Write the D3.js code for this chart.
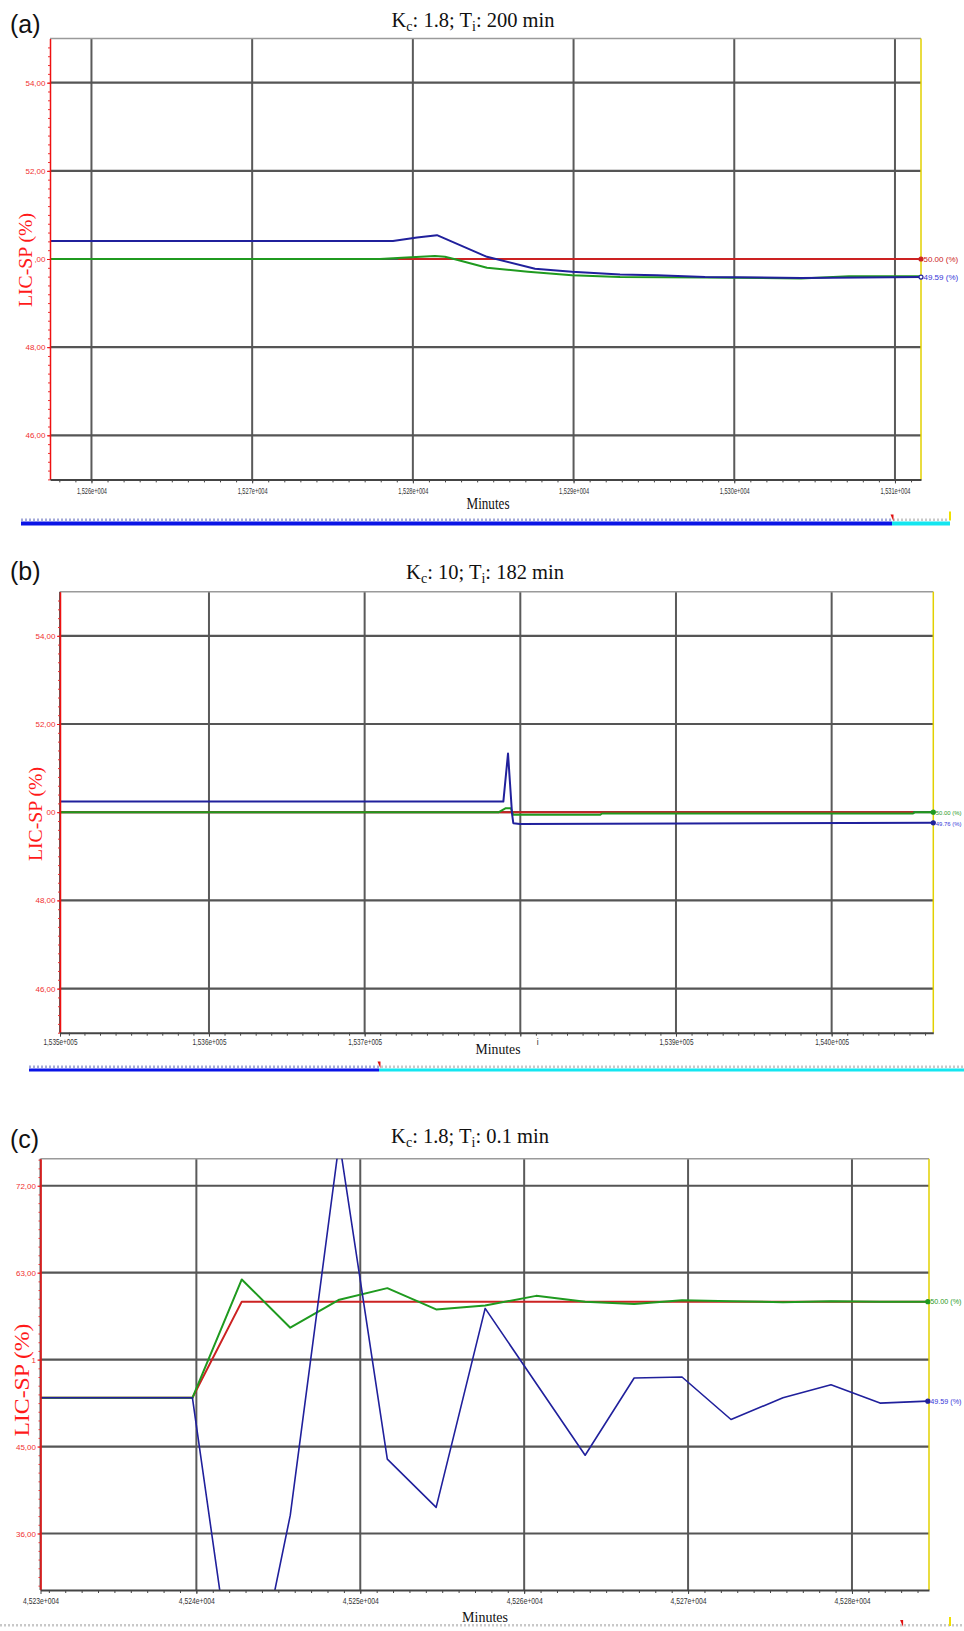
<!DOCTYPE html>
<html>
<head>
<meta charset="utf-8">
<script src="https://cdn.jsdelivr.net/npm/d3@7"></script>
<style>
  body { margin: 0; background: #fff; }
  svg { display: block; }
</style>
</head>
<body>
<svg id="chart"></svg>
<script>
'use strict'

// ---------- panel (a): Kc 1.8, Ti 200 min ----------
const aXDomain = [15257.42, 15311.62]
const aYDomain = [45, 55]
const aXTicks = [15260, 15270, 15280, 15290, 15300, 15310]
const aXTickLabels = ['1,526e+004', '1,527e+004', '1,528e+004', '1,529e+004', '1,530e+004', '1,531e+004']
const aYTicks = [46, 48, 50, 52, 54]
const aYTickLabels = ['46,00', '48,00', ',00', '52,00', '54,00']
const aRedT = [15279.09, 15311.62]
const aRedV = [50.0, 50.0]
const aGreenT = [15257.42, 15277.95, 15279.32, 15281.37, 15281.99, 15282.56, 15284.61, 15287.16, 15289.90, 15292.89, 15298.18, 15304.15, 15307.14, 15311.62]
const aGreenV = [50.0, 50.0, 50.03, 50.07, 50.05, 50.0, 49.80, 49.71, 49.63, 49.59, 49.58, 49.56, 49.61, 49.61]
const aBlueT = [15257.42, 15278.76, 15280.26, 15281.50, 15284.61, 15287.60, 15289.90, 15292.89, 15295.19, 15298.18, 15304.15, 15311.62]
const aBlueV = [50.41, 50.41, 50.49, 50.54, 50.05, 49.78, 49.71, 49.65, 49.63, 49.59, 49.57, 49.59]
const aEndLabels = ['50.00 (%)', '49.59 (%)']

// ---------- panel (b): Kc 10, Ti 182 min ----------
const bXDomain = [153504.3, 154065.3]
const bYDomain = [45, 55]
const bXTicks = [153504.3, 153600, 153700, 153800, 153900, 154000]
const bXTickLabels = ['1,535e+005', '1,536e+005', '1,537e+005', 'i', '1,539e+005', '1,540e+005']
const bYTicks = [46, 48, 50, 52, 54]
const bYTickLabels = ['46,00', '48,00', '00', '52,00', '54,00']
const bRedT = [153504.3, 154052.3]
const bRedV = [50.0, 50.0]
const bGreenT = [153504.3, 153786.2, 153790.7, 153793.9, 153795.5, 153851.2, 153852.5, 154052.3, 154053.6, 154065.3]
const bGreenV = [50.0, 50.0, 50.09, 50.09, 49.94, 49.94, 49.97, 49.97, 50.0, 50.0]
const bBlueT = [153504.3, 153789.1, 153792.1, 153794.7, 153795.5, 153799.8, 154065.3]
const bBlueV = [50.24, 50.24, 51.33, 49.96, 49.75, 49.73, 49.76]
const bEndLabels = ['50.00 (%)', '49.76 (%)']

// ---------- panel (c): Kc 1.8, Ti 0.1 min ----------
const cXDomain = [45230.49, 45284.70]
const cYDomain = [30.15, 74.8]
const cXTicks = [45230.49, 45240, 45250, 45260, 45270, 45280]
const cXTickLabels = ['4,523e+004', '4,524e+004', '4,525e+004', '4,526e+004', '4,527e+004', '4,528e+004']
const cYTicks = [36, 45, 54, 63, 72]
const cYTickLabels = ['36,00', '45,00', '1', '63,00', '72,00']
const cRedT = [45230.49, 45239.76, 45242.77, 45284.63]
const cRedV = [50.05, 50.05, 60.0, 60.0]
const cGreenT = [45230.49, 45239.76, 45242.77, 45245.73, 45248.72, 45251.65, 45254.63, 45257.62, 45260.73, 45263.72, 45266.71, 45269.63, 45272.62, 45275.79, 45278.72, 45281.71, 45284.63]
const cGreenV = [50.05, 50.05, 62.3, 57.3, 60.2, 61.4, 59.2, 59.6, 60.6, 60.0, 59.75, 60.15, 60.05, 59.95, 60.05, 60.0, 60.0]
const cBlueT = [45230.49, 45239.76, 45242.80, 45245.73, 45248.72, 45251.65, 45254.63, 45257.62, 45263.72, 45266.71, 45269.63, 45272.62, 45275.79, 45278.72, 45281.71, 45284.63]
const cBlueV = [50.05, 50.05, 13.7, 37.9, 76.6, 43.7, 38.7, 59.3, 44.1, 52.1, 52.2, 47.8, 50.05, 51.4, 49.5, 49.7]
const cEndLabels = ['50.00 (%)', '49.59 (%)']

const panelLetters = ['(a)', '(b)', '(c)']
const titleKc = ['1.8', '10', '1.8']
const titleTi = ['200', '182', '0.1']

const RED = '#cc2222', GREEN = '#1f9a1f', BLUE = '#20209c'
const W = 964, H = 1631

// layout of each panel (pixels), the values come from the arrays above
const panels = [
  {
    letter: panelLetters[0], kc: titleKc[0], ti: titleTi[0],
    box: {left: 50, right: 921, top: 38.6, bottom: 479.4},
    xDomain: aXDomain, yDomain: aYDomain,
    xTicks: aXTicks, xTickLabels: aXTickLabels, xMinor: 1,
    yTicks: aYTicks, yTickLabels: aYTickLabels, yMinor: 0.2,
    series: [
      {t: aRedT, v: aRedV, color: RED, width: 2},
      {t: aGreenT, v: aGreenV, color: GREEN, width: 2},
      {t: aBlueT, v: aBlueV, color: BLUE, width: 2}
    ],
    ends: [{s: 0, text: aEndLabels[0], fill: true}, {s: 2, text: aEndLabels[1], fill: false}],
    letterPos: {x: 10, y: 33}, titlePos: {x: 473, y: 27},
    yLabel: {x: 25, y: 260, len: 94, size: 19},
    minutes: {x: 488, y: 509, len: 43, size: 16},
    xLab: {y: 494, len: 30, size: 9},
    scroll: {y: 521.5, h: 4, from: 21, split: 892, to: 950, yellow: 950}
  },
  {
    letter: panelLetters[1], kc: titleKc[1], ti: titleTi[1],
    box: {left: 60, right: 933.3, top: 591.7, bottom: 1032.7},
    xDomain: bXDomain, yDomain: bYDomain,
    xTicks: bXTicks, xTickLabels: bXTickLabels, xMinor: 10,
    yTicks: bYTicks, yTickLabels: bYTickLabels, yMinor: 0.2,
    series: [
      {t: bRedT, v: bRedV, color: RED, width: 2},
      {t: bGreenT, v: bGreenV, color: GREEN, width: 2},
      {t: bBlueT, v: bBlueV, color: BLUE, width: 2}
    ],
    ends: [{s: 1, text: bEndLabels[0], fill: true}, {s: 2, text: bEndLabels[1], fill: true}],
    letterPos: {x: 10, y: 580}, titlePos: {x: 485, y: 579},
    yLabel: {x: 35, y: 814, len: 94, size: 19},
    minutes: {x: 498, y: 1054, len: 45, size: 15},
    xLab: {y: 1045, len: 34, size: 8.5},
    scroll: {y: 1068.5, h: 3, from: 29, split: 379, to: 964, yellow: null}
  },
  {
    letter: panelLetters[2], kc: titleKc[2], ti: titleTi[2],
    box: {left: 40.5, right: 929, top: 1158.7, bottom: 1590},
    xDomain: cXDomain, yDomain: cYDomain,
    xTicks: cXTicks, xTickLabels: cXTickLabels, xMinor: 1,
    yTicks: cYTicks, yTickLabels: cYTickLabels, yMinor: 0.9,
    series: [
      {t: cRedT, v: cRedV, color: RED, width: 2},
      {t: cGreenT, v: cGreenV, color: GREEN, width: 2},
      {t: cBlueT, v: cBlueV, color: BLUE, width: 1.6}
    ],
    ends: [{s: 1, text: cEndLabels[0], fill: true}, {s: 2, text: cEndLabels[1], fill: true}],
    letterPos: {x: 10, y: 1148}, titlePos: {x: 470, y: 1143},
    yLabel: {x: 22, y: 1380, len: 113, size: 21},
    minutes: {x: 485, y: 1622, len: 46, size: 15},
    xLab: {y: 1604, len: 36, size: 9},
    scroll: {y: 1627, h: 0, from: 0, split: 0, to: 964, yellow: 950, marker: 901.6}
  }
]

const svg = d3.select('#chart').attr('width', W).attr('height', H)
svg.append('rect').attr('width', W).attr('height', H).attr('fill', '#fff')

panels.forEach((p, idx) => {
  const g = svg.append('g')
  const b = p.box
  const x = d3.scaleLinear().domain(p.xDomain).range([b.left, b.right])
  const y = d3.scaleLinear().domain(p.yDomain).range([b.bottom, b.top])

  // panel letter
  g.append('text')
    .attr('x', p.letterPos.x).attr('y', p.letterPos.y)
    .attr('font-family', 'Liberation Sans, Arial, sans-serif')
    .attr('font-size', 25).attr('fill', '#111')
    .text(p.letter)

  // title with subscripts
  const title = g.append('text')
    .attr('x', p.titlePos.x).attr('y', p.titlePos.y)
    .attr('text-anchor', 'middle')
    .attr('font-family', 'Liberation Serif, Times New Roman, serif')
    .attr('font-size', 20.5).attr('fill', '#111')
  title.append('tspan').text('K')
  title.append('tspan').attr('font-size', 14).attr('dy', 4).text('c')
  title.append('tspan').attr('dy', -4).text(': ' + p.kc + '; T')
  title.append('tspan').attr('font-size', 14).attr('dy', 4).text('i')
  title.append('tspan').attr('dy', -4).text(': ' + p.ti + ' min')

  // grid
  g.append('g').selectAll('line').data(p.xTicks).join('line')
    .attr('x1', d => x(d)).attr('x2', d => x(d))
    .attr('y1', b.top).attr('y2', b.bottom)
    .attr('stroke', '#5a5a5a').attr('stroke-width', 2)
  g.append('g').selectAll('line').data(p.yTicks).join('line')
    .attr('x1', b.left).attr('x2', b.right)
    .attr('y1', d => y(d)).attr('y2', d => y(d))
    .attr('stroke', '#555').attr('stroke-width', 2.2)

  // frame: grey top, yellow right
  g.append('line').attr('x1', b.left).attr('x2', b.right).attr('y1', b.top).attr('y2', b.top)
    .attr('stroke', '#9a9a9a').attr('stroke-width', 1.5)
  g.append('line').attr('x1', b.right).attr('x2', b.right).attr('y1', b.top).attr('y2', b.bottom)
    .attr('stroke', '#e2d000').attr('stroke-width', 1.5)

  // series, clipped to the plot
  const clipId = 'clip' + idx
  svg.append('clipPath').attr('id', clipId).append('rect')
    .attr('x', b.left).attr('y', b.top).attr('width', b.right - b.left).attr('height', b.bottom - b.top)
  const line = d3.line().x(d => x(d[0])).y(d => y(d[1]))
  const plot = g.append('g').attr('clip-path', 'url(#' + clipId + ')')
  p.series.forEach(s => {
    plot.append('path').datum(d3.zip(s.t, s.v))
      .attr('d', line).attr('fill', 'none')
      .attr('stroke', s.color).attr('stroke-width', s.width)
      .attr('stroke-linejoin', 'round')
  })

  // end markers + value labels (kept inside the page width)
  p.ends.forEach(e => {
    const s = p.series[e.s]
    const lx = x(s.t[s.t.length - 1]), ly = y(s.v[s.v.length - 1])
    g.append('circle').attr('cx', lx).attr('cy', ly).attr('r', 2)
      .attr('fill', e.fill ? s.color : '#fff').attr('stroke', s.color).attr('stroke-width', 1.2)
    const tx = lx + 2.5
    const fs = Math.min(8, (W - 2 - tx) / 4.4)
    g.append('text').attr('x', tx).attr('y', ly + 2.8)
      .attr('font-family', 'Liberation Sans, Arial, sans-serif')
      .attr('font-size', fs).attr('fill', s.color === BLUE ? '#3535d8' : s.color)
      .text(e.text)
  })

  // y axis (red) with minor ticks
  const yMinorTicks = d3.range(Math.ceil(p.yDomain[0] / p.yMinor) * p.yMinor, p.yDomain[1], p.yMinor)
  const yMinorAxis = g.append('g').attr('transform', 'translate(' + b.left + ',0)')
    .call(d3.axisLeft(y).tickValues(yMinorTicks).tickFormat('').tickSize(2).tickSizeOuter(0))
  yMinorAxis.select('.domain').remove()
  yMinorAxis.selectAll('line').attr('stroke', '#e33').attr('stroke-width', 1)
  const yAxis = g.append('g').attr('transform', 'translate(' + b.left + ',0)')
    .call(d3.axisLeft(y).tickValues(p.yTicks).tickFormat((d, i) => p.yTickLabels[i]).tickSize(3).tickSizeOuter(0).tickPadding(1.5))
  yAxis.select('.domain').attr('stroke', '#e11').attr('stroke-width', 1.5)
  yAxis.selectAll('.tick line').attr('stroke', '#e11')
  yAxis.selectAll('.tick text')
    .attr('font-family', 'Liberation Sans, Arial, sans-serif')
    .attr('font-size', 8).attr('fill', '#f03030')

  // y axis title
  g.append('text')
    .attr('transform', 'translate(' + p.yLabel.x + ',' + p.yLabel.y + ') rotate(-90)')
    .attr('text-anchor', 'middle').attr('dy', '0.35em')
    .attr('font-family', 'Liberation Serif, Times New Roman, serif')
    .attr('font-size', p.yLabel.size).attr('fill', '#ff1a1a')
    .attr('textLength', p.yLabel.len).attr('lengthAdjust', 'spacingAndGlyphs')
    .text('LIC-SP (%)')

  // x axis (dark) with minor ticks
  const xMinorTicks = d3.range(Math.ceil(p.xDomain[0] / p.xMinor) * p.xMinor, p.xDomain[1], p.xMinor)
  const xMinorAxis = g.append('g').attr('transform', 'translate(0,' + b.bottom + ')')
    .call(d3.axisBottom(x).tickValues(xMinorTicks).tickFormat('').tickSize(3).tickSizeOuter(0))
  xMinorAxis.select('.domain').remove()
  xMinorAxis.selectAll('line').attr('stroke', '#444').attr('stroke-width', 1)
  const xAxis = g.append('g').attr('transform', 'translate(0,' + b.bottom + ')')
    .call(d3.axisBottom(x).tickValues(p.xTicks).tickFormat((d, i) => p.xTickLabels[i]).tickSize(4).tickSizeOuter(0).tickPadding(3))
  xAxis.select('.domain').attr('stroke', '#444').attr('stroke-width', 2)
  xAxis.selectAll('.tick line').attr('stroke', '#444')
  xAxis.selectAll('.tick text')
    .attr('dy', null)
    .attr('font-family', 'Liberation Sans, Arial, sans-serif')
    .attr('font-size', p.xLab.size).attr('fill', '#333')
    .each(function(d, i) {
      const t = d3.select(this)
      t.attr('y', p.xLab.y - b.bottom)
      if (p.xTickLabels[i].length > 2) {
        t.attr('textLength', p.xLab.len).attr('lengthAdjust', 'spacingAndGlyphs')
      } else {
        t.attr('dx', 17)
      }
    })

  // "Minutes"
  g.append('text')
    .attr('x', p.minutes.x).attr('y', p.minutes.y)
    .attr('text-anchor', 'middle')
    .attr('font-family', 'Liberation Serif, Times New Roman, serif')
    .attr('font-size', p.minutes.size).attr('fill', '#111')
    .attr('textLength', p.minutes.len).attr('lengthAdjust', 'spacingAndGlyphs')
    .text('Minutes')

  // scroll bar under the chart
  const sc = p.scroll
  const sg = g.append('g')
  if (sc.h > 0) {
    sg.append('rect').attr('x', sc.from).attr('y', sc.y).attr('width', sc.split - sc.from).attr('height', sc.h).attr('fill', '#0a14e6')
    sg.append('rect').attr('x', sc.split).attr('y', sc.y).attr('width', sc.to - sc.split).attr('height', sc.h).attr('fill', '#14e6f0')
  }
  sg.selectAll('.stick').data(d3.range(sc.from + 1, sc.to, 4)).join('line')
    .attr('x1', d => d).attr('x2', d => d)
    .attr('y1', sc.y - 3).attr('y2', sc.y - 0.5)
    .attr('stroke', d => (d < sc.split ? '#1a2aa0' : '#777')).attr('stroke-width', 0.8)
  const mk = sc.marker !== undefined ? sc.marker : sc.split
  sg.append('path')
    .attr('d', 'M' + (mk - 1.5) + ',' + (sc.y - 7) + 'L' + (mk + 1.5) + ',' + (sc.y - 7) + 'L' + (mk + 1.5) + ',' + (sc.y) + 'Z')
    .attr('fill', '#e01010')
  if (sc.yellow) {
    sg.append('line').attr('x1', sc.yellow).attr('x2', sc.yellow)
      .attr('y1', sc.y - 10).attr('y2', sc.y - 1)
      .attr('stroke', '#f0e000').attr('stroke-width', 2)
  }
})
</script>
</body>
</html>
